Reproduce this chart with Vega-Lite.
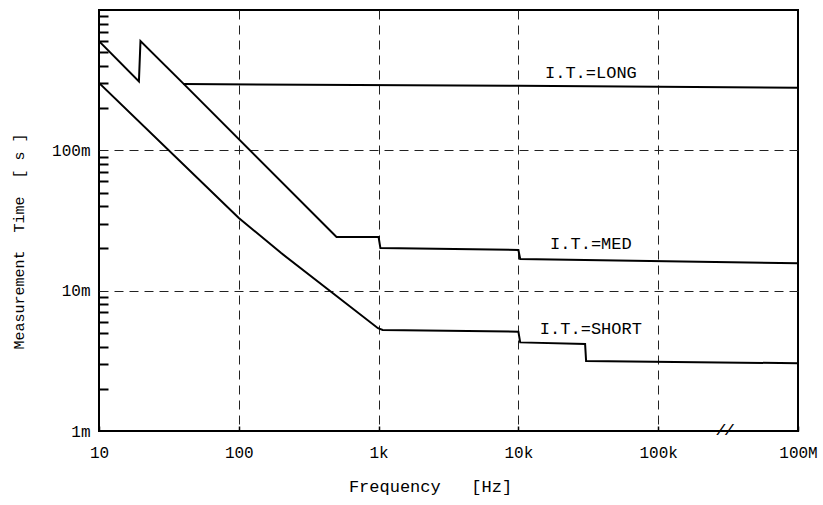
{
  "$schema": "https://vega.github.io/schema/vega-lite/v6.json",
  "width": 699,
  "height": 421,
  "autosize": {"type": "none"},
  "padding": {"left": 99, "top": 10, "right": 25, "bottom": 74},
  "background": "white",
  "config": {
    "view": {"stroke": "black", "strokeWidth": 2},
    "font": "Liberation Mono",
    "axis": {"labelFont": "Liberation Mono", "titleFont": "Liberation Mono", "titleFontWeight": "normal", "labelColor": "black", "titleColor": "black", "labelFlush": false}
  },
  "resolve": {"axis": {"x": "independent", "y": "independent"}},
  "datasets": {
    "curves": [
      {"series": "MED", "freq": 10, "time": 0.6},
      {"series": "MED", "freq": 19.3, "time": 0.31},
      {"series": "MED", "freq": 19.8, "time": 0.6},
      {"series": "MED", "freq": 40, "time": 0.3},
      {"series": "MED", "freq": 500, "time": 0.0241},
      {"series": "MED", "freq": 1000, "time": 0.0241},
      {"series": "MED", "freq": 1030, "time": 0.0201},
      {"series": "MED", "freq": 10000, "time": 0.0195},
      {"series": "MED", "freq": 10300, "time": 0.0168},
      {"series": "MED", "freq": 1000000, "time": 0.0157},
      {"series": "LONG", "freq": 40, "time": 0.297},
      {"series": "LONG", "freq": 10000, "time": 0.288},
      {"series": "LONG", "freq": 1000000, "time": 0.279},
      {"series": "SHORT", "freq": 10, "time": 0.302},
      {"series": "SHORT", "freq": 100, "time": 0.033},
      {"series": "SHORT", "freq": 200, "time": 0.0186},
      {"series": "SHORT", "freq": 990, "time": 0.0054},
      {"series": "SHORT", "freq": 1070, "time": 0.00525},
      {"series": "SHORT", "freq": 10000, "time": 0.0051},
      {"series": "SHORT", "freq": 10300, "time": 0.00428},
      {"series": "SHORT", "freq": 30000, "time": 0.00417},
      {"series": "SHORT", "freq": 30500, "time": 0.00315},
      {"series": "SHORT", "freq": 1000000, "time": 0.00304}
    ],
    "labels": [
      {"label": "I.T.=LONG", "freq": 33000, "time": 0.356},
      {"label": "I.T.=MED", "freq": 33000, "time": 0.0215},
      {"label": "I.T.=SHORT", "freq": 33000, "time": 0.00533}
    ],
    "breaks": [
      {"mark": "//", "freq": 300000, "time": 0.001}
    ]
  },
  "layer": [
    {
      "data": {"name": "curves"},
      "mark": {"type": "line", "color": "black", "strokeWidth": 2, "clip": true},
      "encoding": {
        "x": {
          "field": "freq", "type": "quantitative",
          "scale": {"type": "log", "domain": [10, 1000000], "nice": false},
          "axis": {
            "orient": "bottom",
            "values": [100, 1000, 10000, 100000],
            "grid": true, "gridDash": [9, 6], "gridColor": "#222", "gridWidth": 1, "gridOpacity": 1,
            "labels": false, "ticks": false, "domain": false, "title": null
          }
        },
        "y": {
          "field": "time", "type": "quantitative",
          "scale": {"type": "log", "domain": [0.001, 1], "nice": false},
          "axis": {
            "orient": "left",
            "values": [0.01, 0.1],
            "grid": true, "gridDash": [9, 6], "gridColor": "#222", "gridWidth": 1, "gridOpacity": 1,
            "labels": false, "ticks": false, "domain": false, "title": null
          }
        },
        "detail": {"field": "series"}
      }
    },
    {
      "data": {"name": "labels"},
      "mark": {"type": "text", "fontSize": 17, "font": "Liberation Mono", "color": "black"},
      "encoding": {
        "x": {"field": "freq", "type": "quantitative", "scale": {"type": "log", "domain": [10, 1000000], "nice": false},
          "axis": {
            "orient": "bottom",
            "values": [10, 100, 1000, 10000, 100000, 1000000],
            "labelExpr": "datum.value == 10 ? '10' : datum.value == 100 ? '100' : datum.value == 1000 ? '1k' : datum.value == 10000 ? '10k' : datum.value == 100000 ? '100k' : '100M'",
            "labelFontSize": 16, "labelPadding": 18, "tickSize": -5, "tickWidth": 1.5, "tickColor": "black",
            "domain": false, "grid": false,
            "title": "Frequency\u00a0\u00a0\u00a0[Hz]", "titleFontSize": 17, "titlePadding": 18, "titleX": 331
          }
        },
        "y": {"field": "time", "type": "quantitative", "scale": {"type": "log", "domain": [0.001, 1], "nice": false},
          "axis": {
            "orient": "left",
            "values": [0.001, 0.01, 0.1],
            "labelExpr": "datum.value < 0.005 ? '1m' : datum.value < 0.05 ? '10m' : '100m'",
            "labelFontSize": 16, "labelPadding": 9, "ticks": false, "domain": false, "grid": false,
            "title": "Measurement\u00a0\u00a0Time\u00a0\u00a0[\u00a0s\u00a0]", "titleFontSize": 15, "titleX": -73, "titleY": 231
          }
        },
        "text": {"field": "label"}
      }
    },
    {
      "data": {"name": "breaks"},
      "mark": {"type": "text", "fontSize": 14, "font": "Liberation Mono", "fontStyle": "italic", "fontWeight": "bold", "color": "black"},
      "encoding": {
        "x": {"field": "freq", "type": "quantitative", "scale": {"type": "log", "domain": [10, 1000000], "nice": false},
          "axis": null},
        "y": {"field": "time", "type": "quantitative", "scale": {"type": "log", "domain": [0.001, 1], "nice": false},
          "axis": {
            "orient": "left",
            "values": [0.002, 0.003, 0.004, 0.005, 0.006, 0.007, 0.008, 0.009, 0.02, 0.03, 0.04, 0.05, 0.06, 0.07, 0.08, 0.09, 0.2, 0.3, 0.4, 0.5, 0.6, 0.7, 0.8, 0.9],
            "labels": false, "tickSize": -9, "tickWidth": 2, "tickColor": "black", "domain": false, "grid": false, "title": null
          }
        },
        "text": {"field": "mark"}
      }
    }
  ]
}
